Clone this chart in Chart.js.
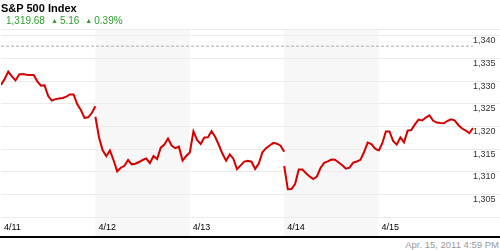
<!DOCTYPE html>
<html>
<head>
<meta charset="utf-8">
<script src="https://cdn.jsdelivr.net/npm/chart.js@4"></script>
<style>
  html, body { margin: 0; padding: 0; background: #fff; }
  #wrap { position: relative; width: 500px; height: 250px; overflow: hidden; font-family: "Liberation Sans", Arial, sans-serif; }
  .title { position: absolute; left: 1px; top: 2px; font-size: 11px; font-weight: bold; line-height: 13px; color: #000; }
  .quote { position: absolute; left: 6px; top: 14px; font-size: 10px; line-height: 13px; color: #2a9d2a; white-space: nowrap; }
  .quote .tri { font-size: 7px; margin: 0 2px 0 6px; position: relative; top: -1px; }
  .rule { position: absolute; left: 0; top: 236px; width: 500px; height: 2px; background: #000; }
  .stamp { position: absolute; right: 1px; top: 239px; font-size: 9.5px; line-height: 11px; color: #999; }
</style>
</head>
<body>
<div id="wrap">
  <canvas id="priceChart" width="500" height="236"></canvas>
  <div class="title">S&amp;P 500 Index</div>
  <div class="quote">1,319.68<span class="tri">&#9650;</span>5.16<span class="tri">&#9650;</span>0.39%</div>
  <div class="rule"></div>
  <div class="stamp">Apr. 15, 2011 4:59 PM</div>
</div>
<script>
// five trading days, 15 minute closes
const days = ['4/11', '4/12', '4/13', '4/14', '4/15'];

const d411 = [1329.14, 1330.46, 1332.11, 1331.06, 1330.15, 1331.45, 1331.56, 1331.39, 1331.34, 1331.34, 1329.96, 1329.01, 1329.07, 1326.72, 1325.70, 1326.04, 1326.17, 1326.30, 1326.59, 1327.07, 1327.07, 1324.91, 1323.63, 1321.89, 1322.03, 1322.97, 1324.45];
const d412 = [1322.16, 1317.58, 1314.76, 1313.46, 1314.74, 1312.58, 1310.13, 1310.93, 1311.34, 1312.62, 1311.67, 1311.81, 1312.18, 1312.62, 1312.95, 1311.92, 1313.50, 1312.84, 1315.35, 1316.04, 1317.36, 1315.81, 1315.22, 1315.55, 1312.51, 1313.50, 1314.27];
const d413 = [1314.23, 1318.96, 1317.03, 1316.15, 1317.60, 1317.64, 1318.99, 1317.69, 1315.93, 1313.99, 1312.49, 1313.85, 1312.91, 1310.59, 1311.43, 1312.27, 1312.47, 1312.25, 1310.66, 1311.85, 1314.34, 1315.24, 1315.81, 1316.39, 1316.21, 1315.79, 1314.45];
const d414 = [1311.30, 1306.17, 1306.21, 1307.33, 1310.53, 1310.53, 1309.71, 1309.01, 1308.44, 1308.99, 1310.86, 1312.00, 1312.33, 1312.71, 1312.69, 1312.09, 1311.48, 1310.73, 1310.93, 1312.05, 1312.29, 1312.67, 1314.38, 1316.48, 1316.15, 1315.18, 1314.67];
const d415 = [1314.60, 1316.26, 1318.90, 1318.90, 1316.80, 1316.00, 1317.60, 1316.50, 1319.10, 1319.23, 1320.46, 1321.52, 1321.32, 1321.98, 1322.44, 1321.32, 1320.88, 1320.77, 1320.70, 1321.26, 1321.61, 1321.32, 1320.29, 1319.56, 1319.12, 1318.57, 1319.68];

const sessions = [d411, d412, d413, d414, d415];
const refLevel = 1337.7;
const yTicks = [1300, 1305, 1310, 1315, 1320, 1325, 1330, 1335, 1340];
const yMin = 1299.19;
const yMax = 1341.48;

// x is day index + fraction of the session, null breaks the line between days
function buildSeries() {
    const pts = [];
    sessions.forEach(function(vals, d) {
        vals.forEach(function(v, i) {
            pts.push({ x: d + i / (vals.length - 1), y: v });
        });
        pts.push({ x: d + 1, y: null });
    });
    return pts;
}

// alternate days get a grey band, down through the date labels
const dayBands = {
    id: 'dayBands',
    beforeDraw: function(chart) {
        const ctx = chart.ctx;
        const xs = chart.scales.x;
        const top = chart.chartArea.top;
        ctx.save();
        ctx.fillStyle = '#f7f7f7';
        days.forEach(function(d, i) {
            if (i % 2 === 1) {
                const x0 = xs.getPixelForValue(i);
                const x1 = xs.getPixelForValue(i + 1);
                ctx.fillRect(x0, top, x1 - x0, xs.bottom - top);
            }
        });
        ctx.restore();
    }
};

const axisFont = { family: '"Liberation Sans", Arial, sans-serif', size: 9 };

new Chart(document.getElementById('priceChart'), {
    type: 'line',
    data: {
        datasets: [
            {
                data: buildSeries(),
                borderColor: '#d40000',
                borderWidth: 2,
                pointRadius: 0,
                tension: 0,
                spanGaps: false
            },
            {
                data: [{ x: 0, y: refLevel }, { x: days.length, y: refLevel }],
                borderColor: '#aaaaaa',
                borderWidth: 1,
                borderDash: [3, 2],
                pointRadius: 0
            }
        ]
    },
    options: {
        responsive: false,
        animation: false,
        events: [],
        layout: { padding: { top: 29, left: 1, right: 0, bottom: 0 } },
        plugins: {
            legend: { display: false },
            tooltip: { enabled: false }
        },
        scales: {
            x: {
                type: 'linear',
                min: 0,
                max: days.length,
                afterBuildTicks: function(scale) {
                    scale.ticks = days.map(function(d, i) { return { value: i }; });
                },
                afterFit: function(scale) { scale.height = 15; },
                grid: { display: false, drawTicks: false },
                border: { display: false },
                ticks: {
                    align: 'start',
                    labelOffset: 3,
                    padding: 1,
                    maxRotation: 0,
                    autoSkip: false,
                    color: '#000',
                    font: axisFont,
                    callback: function(v) { return days[v]; }
                }
            },
            y: {
                position: 'right',
                min: yMin,
                max: yMax,
                afterBuildTicks: function(scale) {
                    scale.ticks = yTicks.concat([yMax]).map(function(v) { return { value: v }; });
                },
                afterFit: function(scale) { scale.width = 27; },
                grid: { color: '#ebebeb', tickLength: 27, drawTicks: true },
                border: { display: false },
                ticks: {
                    padding: -27,
                    labelOffset: 5,
                    autoSkip: false,
                    color: '#333',
                    font: axisFont,
                    callback: function(v) {
                        if (v === yMax || v === yTicks[0]) return '';
                        return v.toLocaleString('en-US');
                    }
                }
            }
        }
    },
    plugins: [dayBands]
});
</script>
</body>
</html>
